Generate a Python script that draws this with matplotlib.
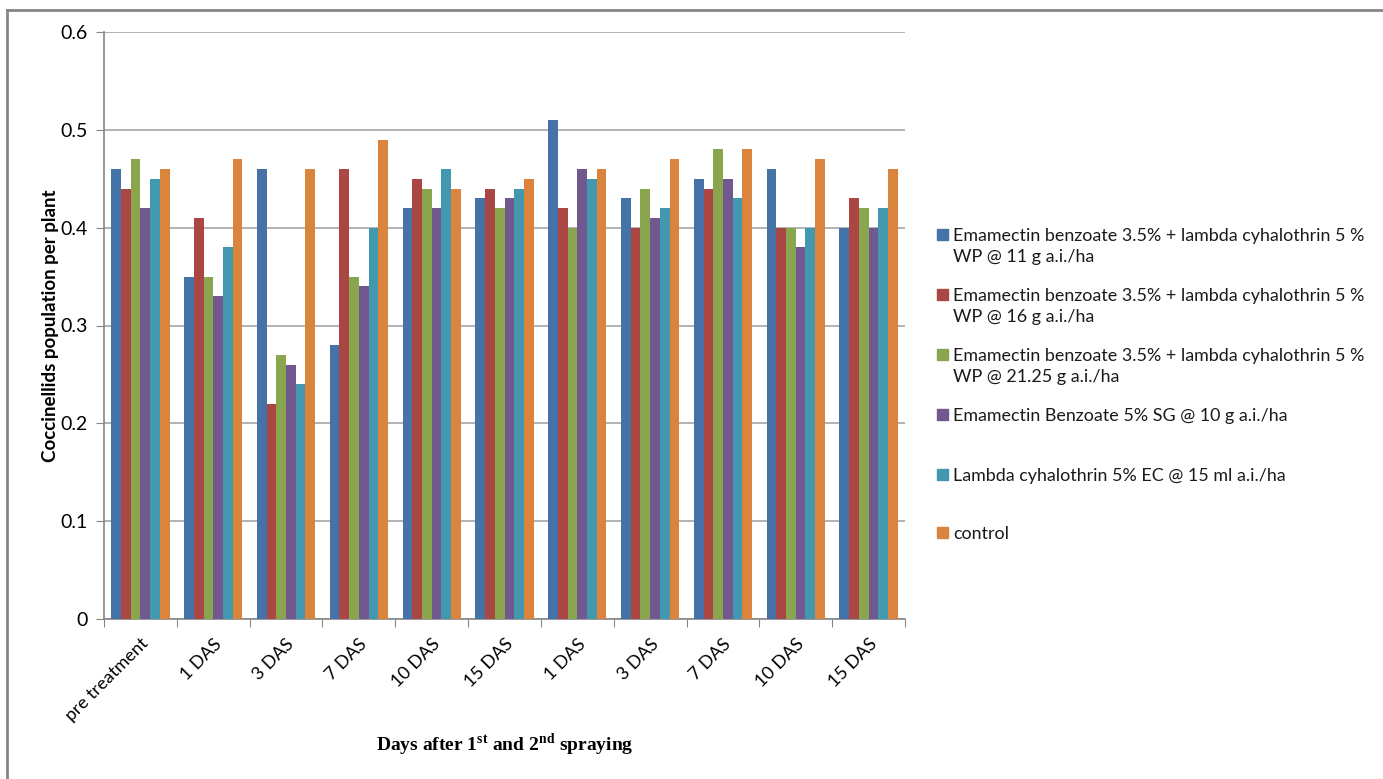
import numpy as np
import matplotlib.pyplot as plt
from matplotlib.patches import Rectangle
from matplotlib.lines import Line2D

categories = ['pre treatment', '1 DAS', '3 DAS', '7 DAS', '10 DAS', '15 DAS',
              '1 DAS', '3 DAS', '7 DAS', '10 DAS', '15 DAS']

eb_lc_11 = [0.46, 0.35, 0.46, 0.28, 0.42, 0.43, 0.51, 0.43, 0.45, 0.46, 0.40]
eb_lc_16 = [0.44, 0.41, 0.22, 0.46, 0.45, 0.44, 0.42, 0.40, 0.44, 0.40, 0.43]
eb_lc_21 = [0.47, 0.35, 0.27, 0.35, 0.44, 0.42, 0.40, 0.44, 0.48, 0.40, 0.42]
eb_sg = [0.42, 0.33, 0.26, 0.34, 0.42, 0.43, 0.46, 0.41, 0.45, 0.38, 0.40]
lc_ec = [0.45, 0.38, 0.24, 0.40, 0.46, 0.44, 0.45, 0.42, 0.43, 0.40, 0.42]
control = [0.46, 0.47, 0.46, 0.49, 0.44, 0.45, 0.46, 0.47, 0.48, 0.47, 0.46]

labels = ['Emamectin benzoate 3.5% + lambda cyhalothrin 5 %\nWP @ 11 g a.i./ha',
          'Emamectin benzoate 3.5% + lambda cyhalothrin 5 %\nWP @ 16 g a.i./ha',
          'Emamectin benzoate 3.5% + lambda cyhalothrin 5 %\nWP @ 21.25 g a.i./ha',
          'Emamectin Benzoate 5% SG @ 10 g a.i./ha',
          'Lambda cyhalothrin 5% EC @ 15 ml a.i./ha',
          'control']

series = [eb_lc_11, eb_lc_16, eb_lc_21, eb_sg, lc_ec, control]
colors = ['#4572A7', '#AA4643', '#89A54E', '#71588F', '#4198AF', '#DB843D']

plt.rcParams['font.family'] = ['Lato', 'DejaVu Sans']
plt.rcParams['mathtext.fontset'] = 'custom'
plt.rcParams['mathtext.rm'] = 'Liberation Serif:bold'

fig = plt.figure(figsize=(13.83, 7.79), dpi=100)
ax = fig.add_axes([104/1383, 1 - 619/779, (905-104)/1383, (619-32)/779])

x = np.arange(len(categories))
n = len(series)
w = 0.8 / n
for i, (vals, c, lab) in enumerate(zip(series, colors, labels)):
    ax.bar(x - 0.4 + w*(i + 0.5), vals, width=w, color=c, label=lab, zorder=3)

ax.set_xlim(-0.5, len(categories) - 0.5)
ax.set_ylim(0, 0.6)
ax.set_yticks([0, 0.1, 0.2, 0.3, 0.4, 0.5, 0.6])
ax.set_yticklabels(['0', '0.1', '0.2', '0.3', '0.4', '0.5', '0.6'], fontsize=14)
ax.yaxis.grid(True, color='#a6a6a6', linewidth=1.2, zorder=0)
ax.tick_params(axis='y', length=6, color='#868686', pad=6)

ax.set_xticks(np.arange(len(categories) + 1) - 0.5, minor=False)
ax.set_xticklabels([])
ax.set_xticks(x, minor=True)
ax.set_xticklabels(categories, minor=True, rotation=45, ha='right',
                   rotation_mode='anchor', fontsize=13)
ax.tick_params(axis='x', which='major', length=6, color='#868686')
ax.tick_params(axis='x', which='minor', length=0, pad=12)

for s in ['top', 'right']:
    ax.spines[s].set_visible(False)
for s in ['left', 'bottom']:
    ax.spines[s].set_color('#868686')
    ax.spines[s].set_linewidth(1.2)

ax.set_ylabel('Coccinellids population per plant', fontsize=13.5,
              fontweight='bold', labelpad=1)
fig.text(505/1383, 1 - 745/779, r'Days after 1$^{\mathrm{st}}$ and 2$^{\mathrm{nd}}$ spraying',
         family='Liberation Serif', fontweight='bold', fontsize=14,
         ha='center', va='center')

# legend drawn by hand so squares line up with the first text line
leg_y = [235, 295, 355, 415, 475, 533]
for yy, c, lab in zip(leg_y, colors, labels):
    fig.patches.append(Rectangle((937/1383, 1 - (yy + 5)/779), 11/1383, 11/779,
                                 transform=fig.transFigure, color=c))
    fig.text(953/1383, 1 - (yy - 7)/779, lab, fontsize=12.9, va='top', ha='left',
             linespacing=1.4, color='#1a1a1a')

# outer chart border (top and left visible)
fig.lines.append(Line2D([7/1383, 1], [1 - 10/779, 1 - 10/779],
                        transform=fig.transFigure, color='#868686', linewidth=2))
fig.lines.append(Line2D([7/1383, 7/1383], [0, 1 - 10/779],
                        transform=fig.transFigure, color='#868686', linewidth=2))

plt.savefig('out.png', dpi=100)
